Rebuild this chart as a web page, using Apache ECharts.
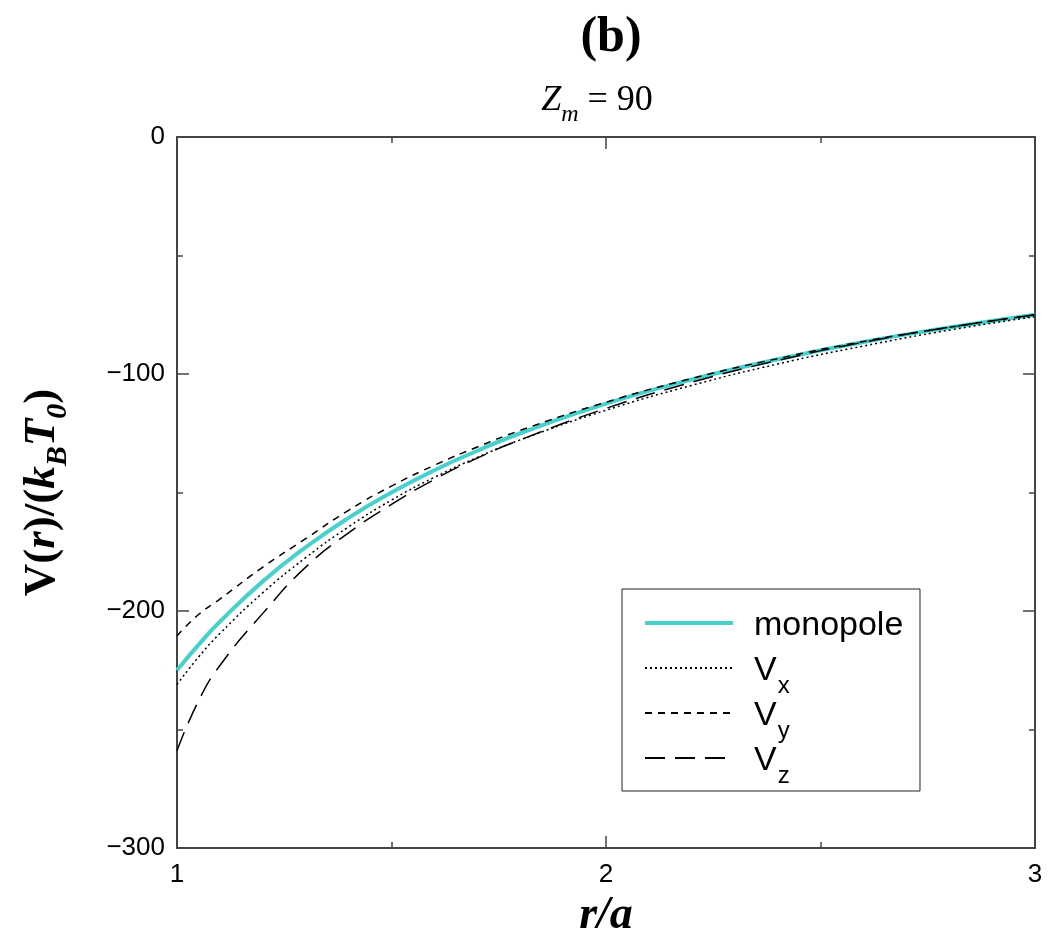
<!DOCTYPE html>
<html>
<head>
<meta charset="utf-8">
<script src="https://cdn.jsdelivr.net/npm/echarts@6/dist/echarts.min.js"></script>
<style>
  html, body { margin: 0; padding: 0; background: #fff; }
  #chart { width: 1049px; height: 932px; }
</style>
</head>
<body>
<div id="chart"></div>
<script>
// r/a sample points
const rVals = [1.0, 1.05, 1.1, 1.2, 1.3, 1.4, 1.5, 1.6, 1.7, 1.8, 2.0, 2.2, 2.4, 2.6, 2.8, 3.0];
// V(r)/(kB T0)
const monopole = [-225, -214.3, -204.5, -187.5, -173.1, -160.7, -150, -140.6, -132.4, -125, -112.5, -102.3, -93.8, -86.5, -80.4, -75];
const vx = [-231, -219.5, -209.5, -192.3, -177.5, -164.5, -153.2, -143.6, -135.2, -127.8, -115.3, -104.8, -95.8, -88.2, -81.5, -75.8];
const vy = [-210.5, -201.5, -195, -181.5, -169.5, -157.5, -147.3, -138.5, -130.8, -123.8, -111.9, -101.9, -93.5, -86.3, -80.3, -75];
const vz = [-259, -238, -223, -201, -181.5, -167, -155, -144.5, -135.5, -127.8, -114.5, -103.5, -94.3, -86.6, -80.3, -75];

const pairs = (ys) => rVals.map((r, i) => [r, ys[i]]);

const chart = echarts.init(document.getElementById("chart"));

const axisCommon = {
  type: "value",
  axisLine: { show: true, onZero: false, lineStyle: { color: "#444", width: 2 } },
  axisTick: { show: true, inside: true, length: 12, lineStyle: { color: "#444", width: 1.5 } },
  minorTick: { show: true, splitNumber: 2, length: 6, lineStyle: { color: "#444", width: 1.5 } },
  splitLine: { show: false },
};

const option = {
  animation: false,
  backgroundColor: "#fff",
  title: [
    {
      text: "(b)",
      left: 606,
      top: 8,
      textAlign: "center",
      textStyle: { fontFamily: "Liberation Serif", fontWeight: "bold", fontSize: 50, color: "#000" },
    },
    {
      text: "{i|Z}{s|m}{n| = 90}",
      left: 592,
      top: 78,
      textAlign: "center",
      textStyle: {
        rich: {
          i: { fontFamily: "Liberation Serif", fontWeight: "normal", fontStyle: "italic", fontSize: 36, color: "#000", verticalAlign: "bottom" },
          s: { fontFamily: "Liberation Serif", fontWeight: "normal", fontStyle: "italic", fontSize: 24, color: "#000", verticalAlign: "bottom", padding: [0, 0, -8, 0] },
          n: { fontFamily: "Liberation Serif", fontWeight: "normal", fontSize: 36, color: "#000", verticalAlign: "bottom" },
        },
      },
    },
  ],
  grid: { left: 177, right: 14, top: 137, bottom: 84, outerBoundsMode: "none" },
  legend: {
    orient: "vertical",
    left: 622,
    top: 589,
    padding: [20, 9, 3, 21],
    itemGap: 1,
    itemWidth: 88,
    itemHeight: 14,
    backgroundColor: "#fff",
    borderColor: "#222",
    borderWidth: 1,
    itemStyle: { opacity: 0 },
    data: [
      { name: "monopole", lineStyle: { width: 4 } },
      { name: "Vx" },
      { name: "Vy" },
      { name: "Vz" },
    ],
    formatter: (name) => (name === "monopole" ? "{t|monopole}{s| }" : "{t|V}{s|" + name.slice(1) + "}"),
    textStyle: {
      padding: [0, 0, 0, 16],
      rich: {
        t: { fontFamily: "Liberation Sans", fontSize: 34, color: "#000", verticalAlign: "bottom", lineHeight: 40 },
        s: { fontFamily: "Liberation Sans", fontSize: 24, color: "#000", verticalAlign: "bottom", lineHeight: 40, padding: [0, 0, -10, 1] },
      },
    },
  },
  xAxis: [
    Object.assign({}, axisCommon, {
      position: "bottom",
      min: 1,
      max: 3,
      interval: 1,
      axisLabel: { margin: 14, fontFamily: "Liberation Sans", fontSize: 26, color: "#000" },
      name: "{n|r/a}",
      nameLocation: "middle",
      nameGap: 28,
      nameTextStyle: {
        verticalAlign: "top",
        rich: { n: { fontFamily: "Liberation Serif", fontWeight: "bold", fontStyle: "italic", fontSize: 46, color: "#000" } },
      },
    }),
    Object.assign({}, axisCommon, {
      position: "top",
      min: 1,
      max: 3,
      interval: 1,
      axisLabel: { show: false },
    }),
  ],
  yAxis: [
    Object.assign({}, axisCommon, {
      position: "left",
      min: -300,
      max: 0,
      interval: 100,
      axisLabel: {
        margin: 12,
        fontFamily: "Liberation Sans",
        fontSize: 26,
        color: "#000",
        formatter: (v) => String(v).replace("-", "\u2212"),
      },
      name: "{b|V(}{i|r}{b|)/(}{i|k}{s|B}{i|T}{s|0}{b|)}",
      nameLocation: "middle",
      nameRotate: 90,
      nameGap: 112,
      nameTextStyle: {
        rich: {
          b: { fontFamily: "Liberation Serif", fontWeight: "bold", fontSize: 45, color: "#000", verticalAlign: "bottom" },
          i: { fontFamily: "Liberation Serif", fontWeight: "bold", fontStyle: "italic", fontSize: 45, color: "#000", verticalAlign: "bottom" },
          s: { fontFamily: "Liberation Serif", fontWeight: "bold", fontStyle: "italic", fontSize: 30, color: "#000", verticalAlign: "bottom", padding: [0, 0, -8, 0] },
        },
      },
    }),
    Object.assign({}, axisCommon, {
      position: "right",
      min: -300,
      max: 0,
      interval: 100,
      axisLabel: { show: false },
    }),
  ],
  series: [
    {
      name: "monopole",
      type: "line",
      data: pairs(monopole),
      smooth: true,
      symbol: "none",
      z: 3,
      lineStyle: { color: "#48D1CC", width: 4 },
      itemStyle: { color: "#48D1CC" },
    },
    {
      name: "Vx",
      type: "line",
      data: pairs(vx),
      smooth: true,
      symbol: "none",
      lineStyle: { color: "#000", width: 1.5, type: [2, 3] },
      itemStyle: { color: "#000" },
    },
    {
      name: "Vy",
      type: "line",
      data: pairs(vy),
      smooth: true,
      symbol: "none",
      lineStyle: { color: "#000", width: 1.5, type: [7, 6] },
      itemStyle: { color: "#000" },
    },
    {
      name: "Vz",
      type: "line",
      data: pairs(vz),
      smooth: true,
      symbol: "none",
      lineStyle: { color: "#000", width: 1.5, type: [20, 10] },
      itemStyle: { color: "#000" },
    },
  ],
};

chart.setOption(option);
</script>
</body>
</html>
